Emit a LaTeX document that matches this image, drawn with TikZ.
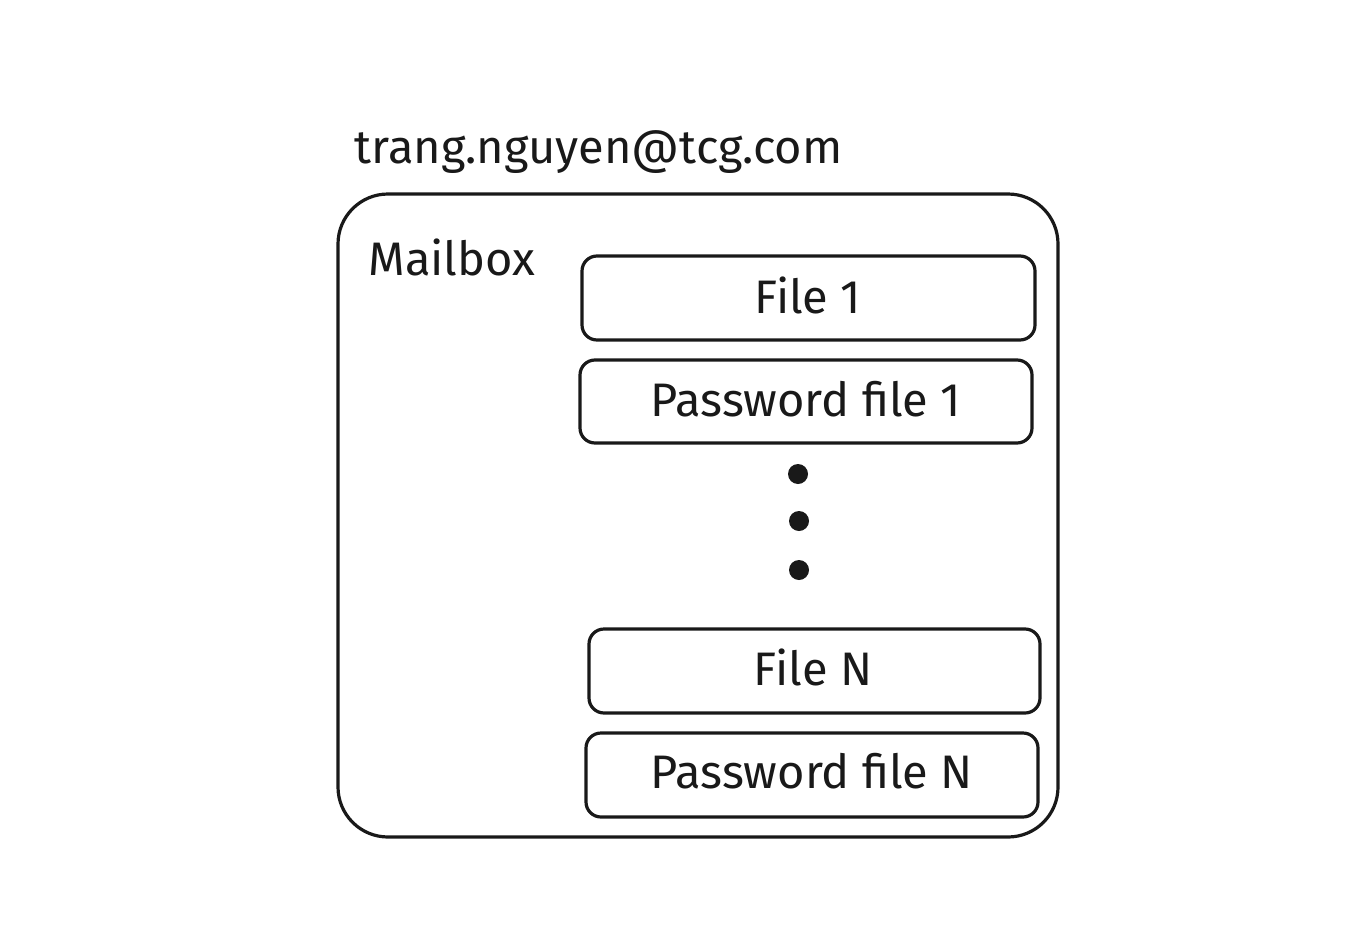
\documentclass[tikz,border=0pt]{standalone}
\usepackage{fontspec}
\setmainfont{Fira Sans}
\begin{document}
\begin{tikzpicture}[x=1pt,y=-1pt,
  box/.style={draw=black!90,line width=3.2pt,rounded corners=15pt},
  lbl/.style={font=\fontsize{47}{54}\selectfont,text=black!90},
  dot/.style={fill=black!90,circle,inner sep=0pt,minimum size=20pt}]
\useasboundingbox (0,0) rectangle (1348,942);
\draw[box,rounded corners=50pt] (338,194) rectangle (1058,837);
\node[lbl,anchor=west] (email) at (351,152) {trang.nguyen@tcg.com};
\node[lbl,anchor=west] (mailbox) at (365,257) {Mailbox};
\draw[box] (582,256) rectangle (1035,340);
\node[lbl] (f1) at (808,295) {File 1};
\draw[box] (580,360) rectangle (1032,443);
\node[lbl] (p1) at (806,399) {Password file 1};
\node[dot] (d1) at (798,474) {};
\node[dot] (d2) at (799,521) {};
\node[dot] (d3) at (799,570) {};
\draw[box] (589,629) rectangle (1040,713);
\node[lbl] (fn) at (813,667) {File N};
\draw[box] (586,733) rectangle (1038,817);
\node[lbl] (pn) at (812,771) {Password file N};
\end{tikzpicture}
\end{document}
